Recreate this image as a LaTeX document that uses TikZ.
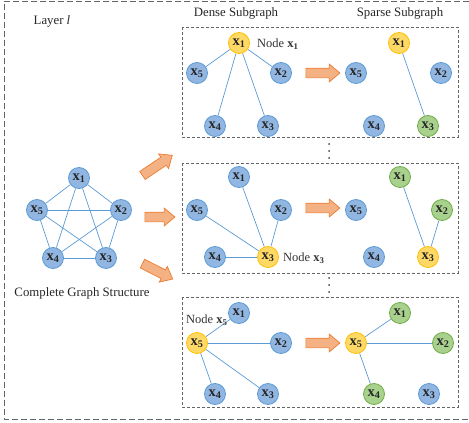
\documentclass[tikz,border=0pt]{standalone}
\usepackage{fontspec}
\setmainfont{Liberation Serif}
\usetikzlibrary{shapes.arrows,backgrounds}

\definecolor{nodeblue}{RGB}{146,182,226}
\definecolor{lineblue}{RGB}{91,155,213}
\definecolor{nodeyellow}{RGB}{255,217,102}
\definecolor{lineyellow}{RGB}{255,192,0}
\definecolor{nodegreen}{RGB}{169,209,142}
\definecolor{linegreen}{RGB}{112,173,71}
\definecolor{arrowfill}{RGB}{244,177,131}
\definecolor{arrowline}{RGB}{237,125,49}
\definecolor{frame}{RGB}{100,100,100}

\newcommand{\xlab}[1]{\textbf{x}\textsubscript{\textbf{#1}}}

\tikzset{
  vtx/.style={circle, minimum size=21pt, inner sep=0pt, line width=0.8pt,
    font=\fontsize{14.5}{14}\selectfont\bfseries, text=black!85},
  bluev/.style={vtx, fill=nodeblue, draw=lineblue},
  yellowv/.style={vtx, fill=nodeyellow, draw=lineyellow},
  greenv/.style={vtx, fill=nodegreen, draw=linegreen},
  edge/.style={draw=lineblue, line width=0.7pt},
  panel/.style={draw=frame, line width=0.8pt, dash pattern=on 3pt off 2pt},
  outer/.style={draw=frame, line width=0.8pt, dash pattern=on 6pt off 3pt},
  bigarrow/.style={single arrow, draw=arrowline, fill=arrowfill, line width=0.7pt,
    minimum width=17pt, single arrow head extend=4pt, single arrow tip angle=80,
    inner xsep=0pt, inner ysep=4.5pt, anchor=center},
  txt/.style={font=\fontsize{12.8}{14}\selectfont, text=black!85},
  nodetxt/.style={font=\fontsize{12.5}{14}\selectfont, text=black!80, anchor=west, inner sep=0pt},
  dot/.style={circle, fill=black!75, inner sep=0pt, minimum size=2pt}
}

\begin{document}
\begin{tikzpicture}[x=1pt,y=-1pt]
\useasboundingbox (0,0) rectangle (469,423);

% outer layer frame (open on the right)
\draw[outer] (469,1) -- (4,1) -- (4,419) -- (469,419);

% titles
\node[txt] (layer) at (52,21) {Layer \textit{l}};
\node[txt] (dense) at (236,13) {Dense Subgraph};
\node[txt] (sparse) at (400,13) {Sparse Subgraph};
\node[txt] (cgs) at (82,293) {Complete Graph Structure};

% panels
\draw[panel] (182,27) rectangle (458,137);
\draw[panel] (182,163) rectangle (458,273);
\draw[panel] (182,297) rectangle (458,407);

% dots between panels
\foreach \yy [count=\i] in {144,151,158} \node[dot] (da\i) at (329,\yy) {};
\foreach \yy [count=\i] in {278,285,292} \node[dot] (db\i) at (329,\yy) {};

% ---------- complete graph ----------
\node[bluev] (a1) at (79,178) {\xlab{1}};
\node[bluev] (a2) at (121,210) {\xlab{2}};
\node[bluev] (a3) at (106,258) {\xlab{3}};
\node[bluev] (a4) at (53,258) {\xlab{4}};
\node[bluev] (a5) at (37,210) {\xlab{5}};
\begin{scope}[on background layer]
\foreach \p/\q in {a1/a2,a1/a3,a1/a4,a1/a5,a2/a3,a2/a4,a2/a5,a3/a4,a3/a5,a4/a5}
  \draw[edge] (\p) -- (\q);
\end{scope}

% arrows to the three panels
\node[bigarrow, minimum height=36pt, rotate=34] (g1) at (155,167) {};
\node[bigarrow, minimum height=30pt] (g2) at (157,217) {};
\node[bigarrow, minimum height=34pt, rotate=-27] (g3) at (155,270) {};

% ---------- panel 1: node x1 ----------
\node[yellowv] (t1) at (239,43) {\xlab{1}};
\node[bluev] (t2) at (281,73) {\xlab{2}};
\node[bluev] (t3) at (268,126) {\xlab{3}};
\node[bluev] (t4) at (215,126) {\xlab{4}};
\node[bluev] (t5) at (197,73) {\xlab{5}};
\node[nodetxt] (tl) at (257,44) {Node \xlab{1}};
\node[bigarrow, minimum height=34pt] (tp) at (320,73) {};
\node[yellowv] (u1) at (399,43) {\xlab{1}};
\node[bluev] (u2) at (441,73) {\xlab{2}};
\node[greenv] (u3) at (428,126) {\xlab{3}};
\node[bluev] (u4) at (374,126) {\xlab{4}};
\node[bluev] (u5) at (356,73) {\xlab{5}};
\begin{scope}[on background layer]
\foreach \q in {t2,t3,t4,t5} \draw[edge] (t1) -- (\q);
\draw[edge] (u1) -- (u3);
\end{scope}

% ---------- panel 2: node x3 ----------
\node[bluev] (m1) at (239,177) {\xlab{1}};
\node[bluev] (m2) at (281,210) {\xlab{2}};
\node[yellowv] (m3) at (268,257) {\xlab{3}};
\node[bluev] (m4) at (215,257) {\xlab{4}};
\node[bluev] (m5) at (197,210) {\xlab{5}};
\node[nodetxt] (ml) at (283,258) {Node \xlab{3}};
\node[bigarrow, minimum height=34pt] (mp) at (320,208) {};
\node[greenv] (n1) at (400,177) {\xlab{1}};
\node[greenv] (n2) at (442,210) {\xlab{2}};
\node[yellowv] (n3) at (428,257) {\xlab{3}};
\node[bluev] (n4) at (374,257) {\xlab{4}};
\node[bluev] (n5) at (356,210) {\xlab{5}};
\begin{scope}[on background layer]
\foreach \q in {m1,m2,m4,m5} \draw[edge] (m3) -- (\q);
\draw[edge] (n3) -- (n1);
\draw[edge] (n3) -- (n2);
\end{scope}

% ---------- panel 3: node x5 ----------
\node[bluev] (b1) at (239,313) {\xlab{1}};
\node[bluev] (b2) at (281,343) {\xlab{2}};
\node[bluev] (b3) at (268,394) {\xlab{3}};
\node[bluev] (b4) at (215,394) {\xlab{4}};
\node[yellowv] (b5) at (197,343) {\xlab{5}};
\node[nodetxt] (bl) at (186,320) {Node \xlab{5}};
\node[bigarrow, minimum height=34pt] (bp) at (320,343) {};
\node[greenv] (c1) at (400,313) {\xlab{1}};
\node[greenv] (c2) at (443,343) {\xlab{2}};
\node[bluev] (c3) at (429,394) {\xlab{3}};
\node[greenv] (c4) at (374,394) {\xlab{4}};
\node[yellowv] (c5) at (356,343) {\xlab{5}};
\begin{scope}[on background layer]
\foreach \q in {b1,b2,b3,b4} \draw[edge] (b5) -- (\q);
\foreach \q in {c1,c2,c4} \draw[edge] (c5) -- (\q);
\end{scope}
\end{tikzpicture}
\end{document}
